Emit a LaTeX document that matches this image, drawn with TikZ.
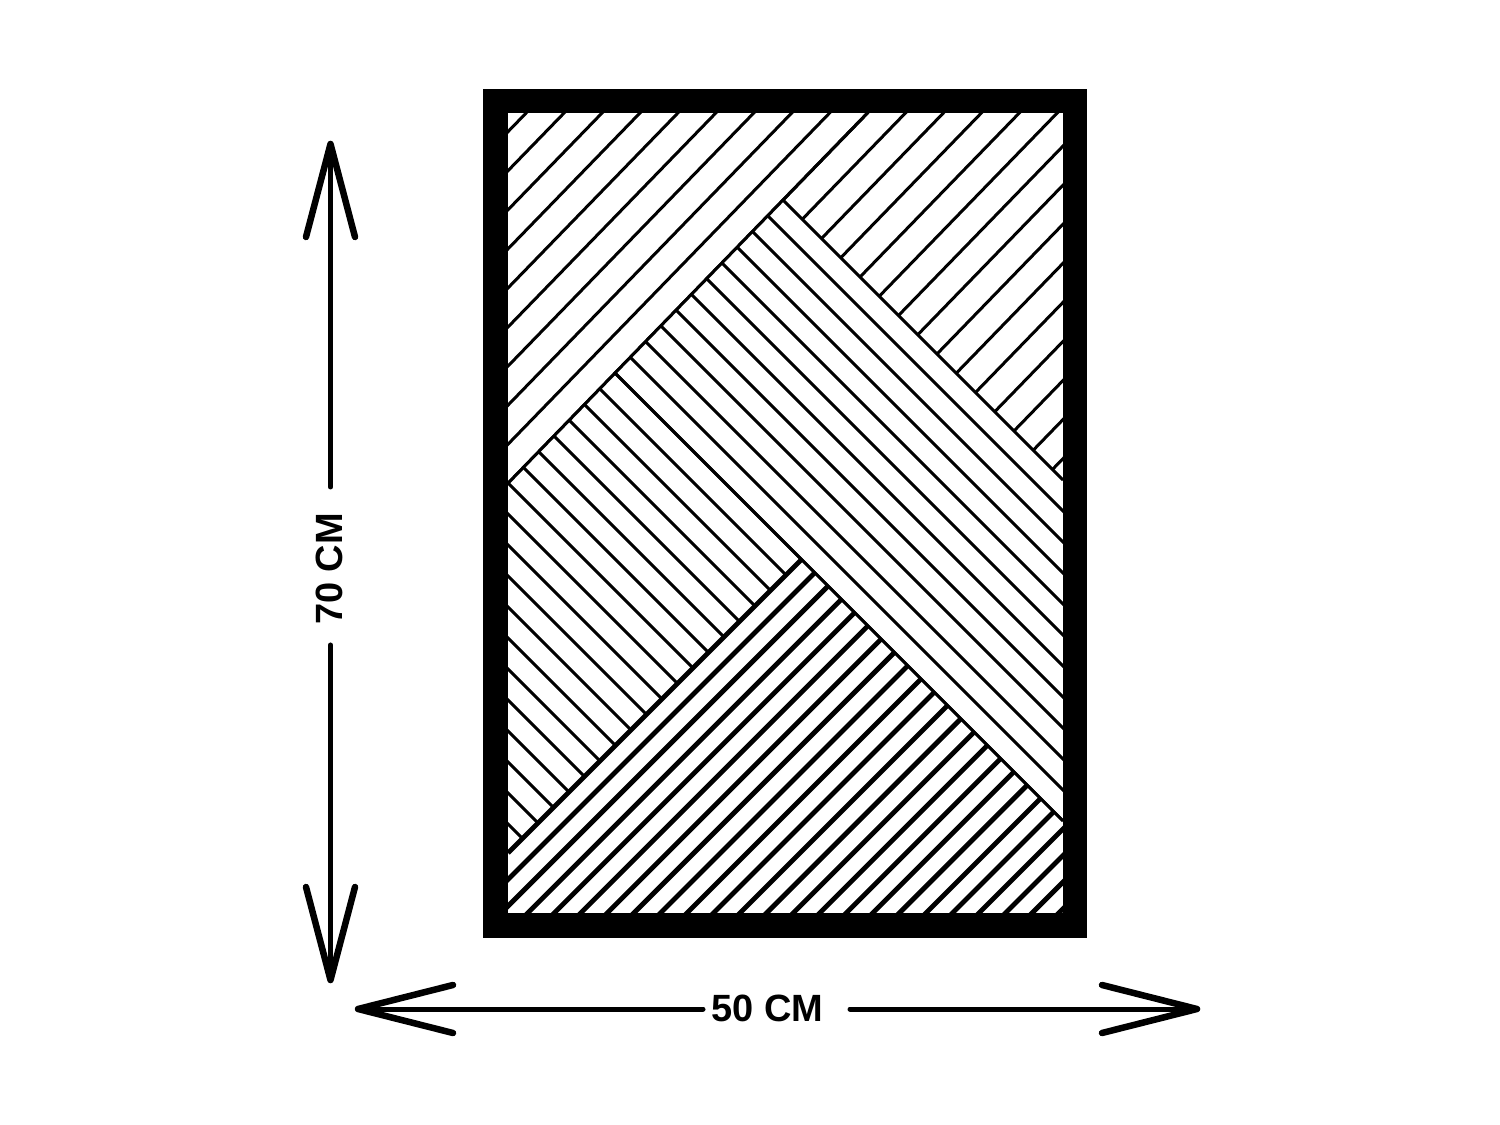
\documentclass[tikz,border=0pt]{standalone}
\usepackage{fontspec}
\setmainfont{Liberation Sans}
\begin{document}
\begin{tikzpicture}[x=0.01cm,y=-0.01cm,
  thinl/.style={line width=0.03cm, black},
  densel/.style={line width=0.048cm, black},
  framel/.style={line width=0.245cm, black},
  dimshaft/.style={line width=0.05cm, line cap=round, black},
  dimbarb/.style={line width=0.065cm, line cap=round, line join=round, black},
  dimlabel/.style={font=\bfseries\fontsize{10.8pt}{12pt}\selectfont, inner sep=0pt, text=black}]
\useasboundingbox (0,0) rectangle (1500,1125);
\fill[white] (0,0) rectangle (1500,1125);

% key points of the pattern
\coordinate (TL) at (508,113);
\coordinate (TR) at (1063,113);
\coordinate (BL) at (508,913);
\coordinate (BR) at (1063,913);
\coordinate (A1) at (783,200);
\coordinate (A2) at (801.5,559.5);
\coordinate (L1) at (508,483.3);
\coordinate (T1) at (867.5,113);
\coordinate (R1) at (1063,480);
\coordinate (L2) at (508,853);
\coordinate (R2) at (1063,821);
\coordinate (S2) at (615,373);

% top family of "/" lines
\begin{scope}
  \clip (TL) -- (TR) -- (R1) -- (A1) -- (L1) -- cycle;
  \foreach \k in {-14,...,9}{
    \pgfmathsetmacro{\yl}{483.3-39.07*\k}
    \draw[thinl] (400,{\yl+111.24}) -- (1200,{\yl-712.76});
  }
\end{scope}

% middle family of "\" lines
\begin{scope}
  \clip (L1) -- (A1) -- (R1) -- (R2) -- (A2) -- (L2) -- cycle;
  \foreach \k in {1,...,29}{
    \pgfmathsetmacro{\dd}{583-31*\k}
    \draw[thinl] (400,{400-\dd}) -- (1200,{1200-\dd});
  }
\end{scope}

% bottom family of dense "/" lines
\begin{scope}
  \clip (L2) -- (A2) -- (R2) -- (BR) -- (BL) -- cycle;
  \foreach \j in {1,...,23}{
    \pgfmathsetmacro{\cc}{1361+26.55*\j}
    \draw[densel] (400,{\cc-400}) -- (1200,{\cc-1200});
  }
\end{scope}

% boundary lines of the two peaks
\draw[thinl] (L1) -- (T1);
\draw[thinl] (A1) -- (R1);
\draw[thinl] (S2) -- (R2);
\draw[densel] (L2) -- (A2);

% frame
\draw[framel] (495.5,101) rectangle (1075,925.5);

% dimension: height
\node[dimlabel, rotate=90] (vlab) at (329,569) {70 CM};
\coordinate (vtop) at (330.5,144);
\coordinate (vbot) at (330.5,980);
\coordinate (vgt) at (330.5,487);
\coordinate (vgb) at (330.5,645);
\draw[dimshaft] (vgt) -- (vtop);
\draw[dimshaft] (vgb) -- (vbot);
\draw[dimbarb] ([shift={(-24.5,93)}]vtop) -- (vtop) -- ([shift={(24.5,93)}]vtop);
\draw[dimbarb] ([shift={(-24.5,-93)}]vbot) -- (vbot) -- ([shift={(24.5,-93)}]vbot);

% dimension: width
\node[dimlabel] (hlab) at (767.5,1008) {50 CM};
\coordinate (hl) at (358,1009);
\coordinate (hr) at (1197,1009);
\coordinate (hgl) at (703,1009);
\coordinate (hgr) at (850,1009);
\draw[dimshaft] (hgl) -- (hl);
\draw[dimshaft] (hgr) -- (hr);
\draw[dimbarb] ([shift={(95,-24)}]hl) -- (hl) -- ([shift={(95,24)}]hl);
\draw[dimbarb] ([shift={(-95,-24)}]hr) -- (hr) -- ([shift={(-95,24)}]hr);
\end{tikzpicture}
\end{document}
